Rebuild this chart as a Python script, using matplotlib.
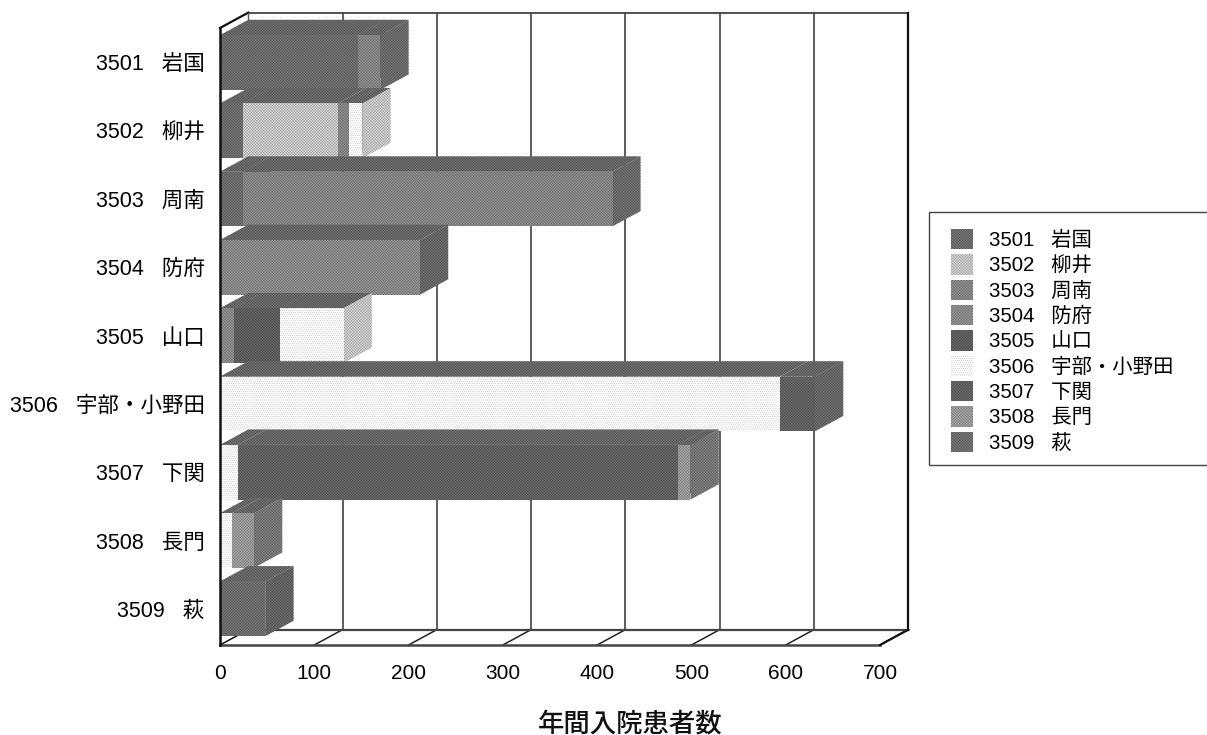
import matplotlib
matplotlib.use("Agg")
import matplotlib.pyplot as plt
from matplotlib.colors import to_rgb
from matplotlib.patches import Patch, Polygon, Rectangle

plt.rcParams["font.family"] = ["Liberation Sans", "Noto Sans CJK JP", "DejaVu Sans"]
plt.rcParams["hatch.linewidth"] = 0.3

# データ
areas = ["3501   岩国", "3502   柳井", "3503   周南", "3504   防府", "3505   山口",
         "3506   宇部・小野田", "3507   下関", "3508   長門", "3509   萩"]
s3501 = [146, 24, 24, 0, 0, 0, 0, 0, 0]
s3502 = [0, 101, 0, 0, 0, 0, 0, 0, 0]
s3503 = [24, 12, 392, 0, 0, 0, 0, 0, 0]
s3504 = [0, 0, 0, 212, 15, 0, 0, 0, 0]
s3505 = [0, 0, 0, 0, 49, 0, 0, 0, 0]
s3506 = [0, 14, 0, 0, 67, 594, 19, 13, 0]
s3507 = [0, 0, 0, 0, 0, 37, 467, 0, 0]
s3508 = [0, 0, 0, 0, 0, 0, 13, 23, 0]
s3509 = [0, 0, 0, 0, 0, 0, 0, 0, 48]
series = [s3501, s3502, s3503, s3504, s3505, s3506, s3507, s3508, s3509]
xticks = [0, 100, 200, 300, 400, 500, 600, 700]

# 色 (正面, 側面)
front_colors = ["#7a7a7a", "#dedede", "#969696", "#9c9c9c", "#6a6a6a",
                "#ffffff", "#6e6e6e", "#acacac", "#7c7c7c"]
side_colors = ["#6e6e6e", "#dadada", "#787878", "#747474", "#646464",
               "#dedede", "#747474", "#868686", "#707070"]
top_color = "#747474"

W, H = 1207, 735
fig = plt.figure(figsize=(W / 100, H / 100), dpi=100)
ax = fig.add_axes([220 / W, 1 - 645 / H, 660 / W, 617 / H])
ax.set_xlim(0, 700)
ax.set_ylim(8.53, -0.505)
for sp in ax.spines.values():
    sp.set_visible(False)

# 奥行き (データ単位)
dx = 30.0
dy = -0.225
bar_h = 0.80


def dither(color):
    r, g, b = to_rgb(color)
    return (r * 0.68, g * 0.68, b * 0.68)


def hatch_for(color):
    # ほぼ白の系列はまばらな点だけ
    return "........" if color == "#ffffff" else "xxxxxxxxxxxx"


def face(points, color):
    ax.add_patch(Polygon(points, closed=True, facecolor=color, edgecolor=dither(color),
                         hatch=hatch_for(color), linewidth=0, clip_on=False, zorder=3))


def box(left, width, row, i):
    right = left + width
    y0, y1 = row - bar_h / 2, row + bar_h / 2
    face([(left, y0), (right, y0), (right + dx, y0 + dy), (left + dx, y0 + dy)], top_color)
    face([(right, y0), (right + dx, y0 + dy), (right + dx, y1 + dy), (right, y1)], side_colors[i])
    face([(left, y0), (right, y0), (right, y1), (left, y1)], front_colors[i])


# 壁と床
top, bottom = -0.505, 8.53
grid_c = "#333333"
for v in xticks[1:]:
    ax.plot([v + dx, v + dx], [top + dy, bottom + dy], color=grid_c, lw=1.1, clip_on=False)
    ax.plot([v, v + dx], [bottom, bottom + dy], color="#222222", lw=1.1, clip_on=False)
ax.plot([0 + dx, 700 + dx], [bottom + dy, bottom + dy], color="#444444", lw=1.6, clip_on=False)
ax.plot([0, 700], [bottom, bottom], color="#444444", lw=1.8, clip_on=False)
ax.plot([0 + dx, 700 + dx], [top + dy, top + dy], color="#444444", lw=1.3, clip_on=False)
ax.plot([0, dx], [top, top + dy], color="#111111", lw=1.6, clip_on=False)
ax.plot([0, dx], [bottom, bottom + dy], color="#111111", lw=1.1, clip_on=False)
ax.plot([dx, dx], [top + dy, bottom + dy], color="#555555", lw=1.0, clip_on=False)
ax.plot([700 + dx, 700 + dx], [top + dy, bottom + dy], color="#111111", lw=1.6, clip_on=False)
ax.plot([700, 700 + dx], [bottom, bottom + dy], color="#111111", lw=1.6, clip_on=False)

# 積み上げ棒
for row in range(len(areas)):
    left = 0
    for i, s in enumerate(series):
        if s[row] > 0:
            box(left, s[row], row, i)
            left += s[row]

# 手前の左端は棒より上に描く
ax.plot([0, 0], [top, bottom], color="#111111", lw=1.8, clip_on=False, zorder=4)

ax.set_yticks(range(len(areas)))
ax.set_yticklabels(areas, fontsize=15.5)
ax.set_xticks(xticks)
ax.set_xticklabels([str(v) for v in xticks], fontsize=15)
ax.tick_params(axis="y", length=0, pad=11)
ax.tick_params(axis="x", length=0, pad=14)

fig.text(630 / W, 1 - 724 / H, "年間入院患者数", fontsize=19, ha="center", va="center",
         fontweight="medium", color="#111111")

# 凡例
fig.add_artist(Rectangle((929 / W, 1 - 465 / H), 300 / W, 253 / H, transform=fig.transFigure,
                         facecolor="white", edgecolor="#444444", linewidth=1.0))
handles = [Patch(facecolor=front_colors[i], edgecolor=dither(front_colors[i]),
                 hatch=hatch_for(front_colors[i]), linewidth=0, label=areas[i])
           for i in range(len(areas))]
fig.legend(handles=handles, loc="upper left", bbox_to_anchor=(951 / W, 1 - 229 / H),
           frameon=False, fontsize=14.7, borderpad=0, borderaxespad=0,
           handlelength=1.07, handleheight=1.15, handletextpad=0.8, labelspacing=0.21)

fig.savefig("out.png", dpi=100)
